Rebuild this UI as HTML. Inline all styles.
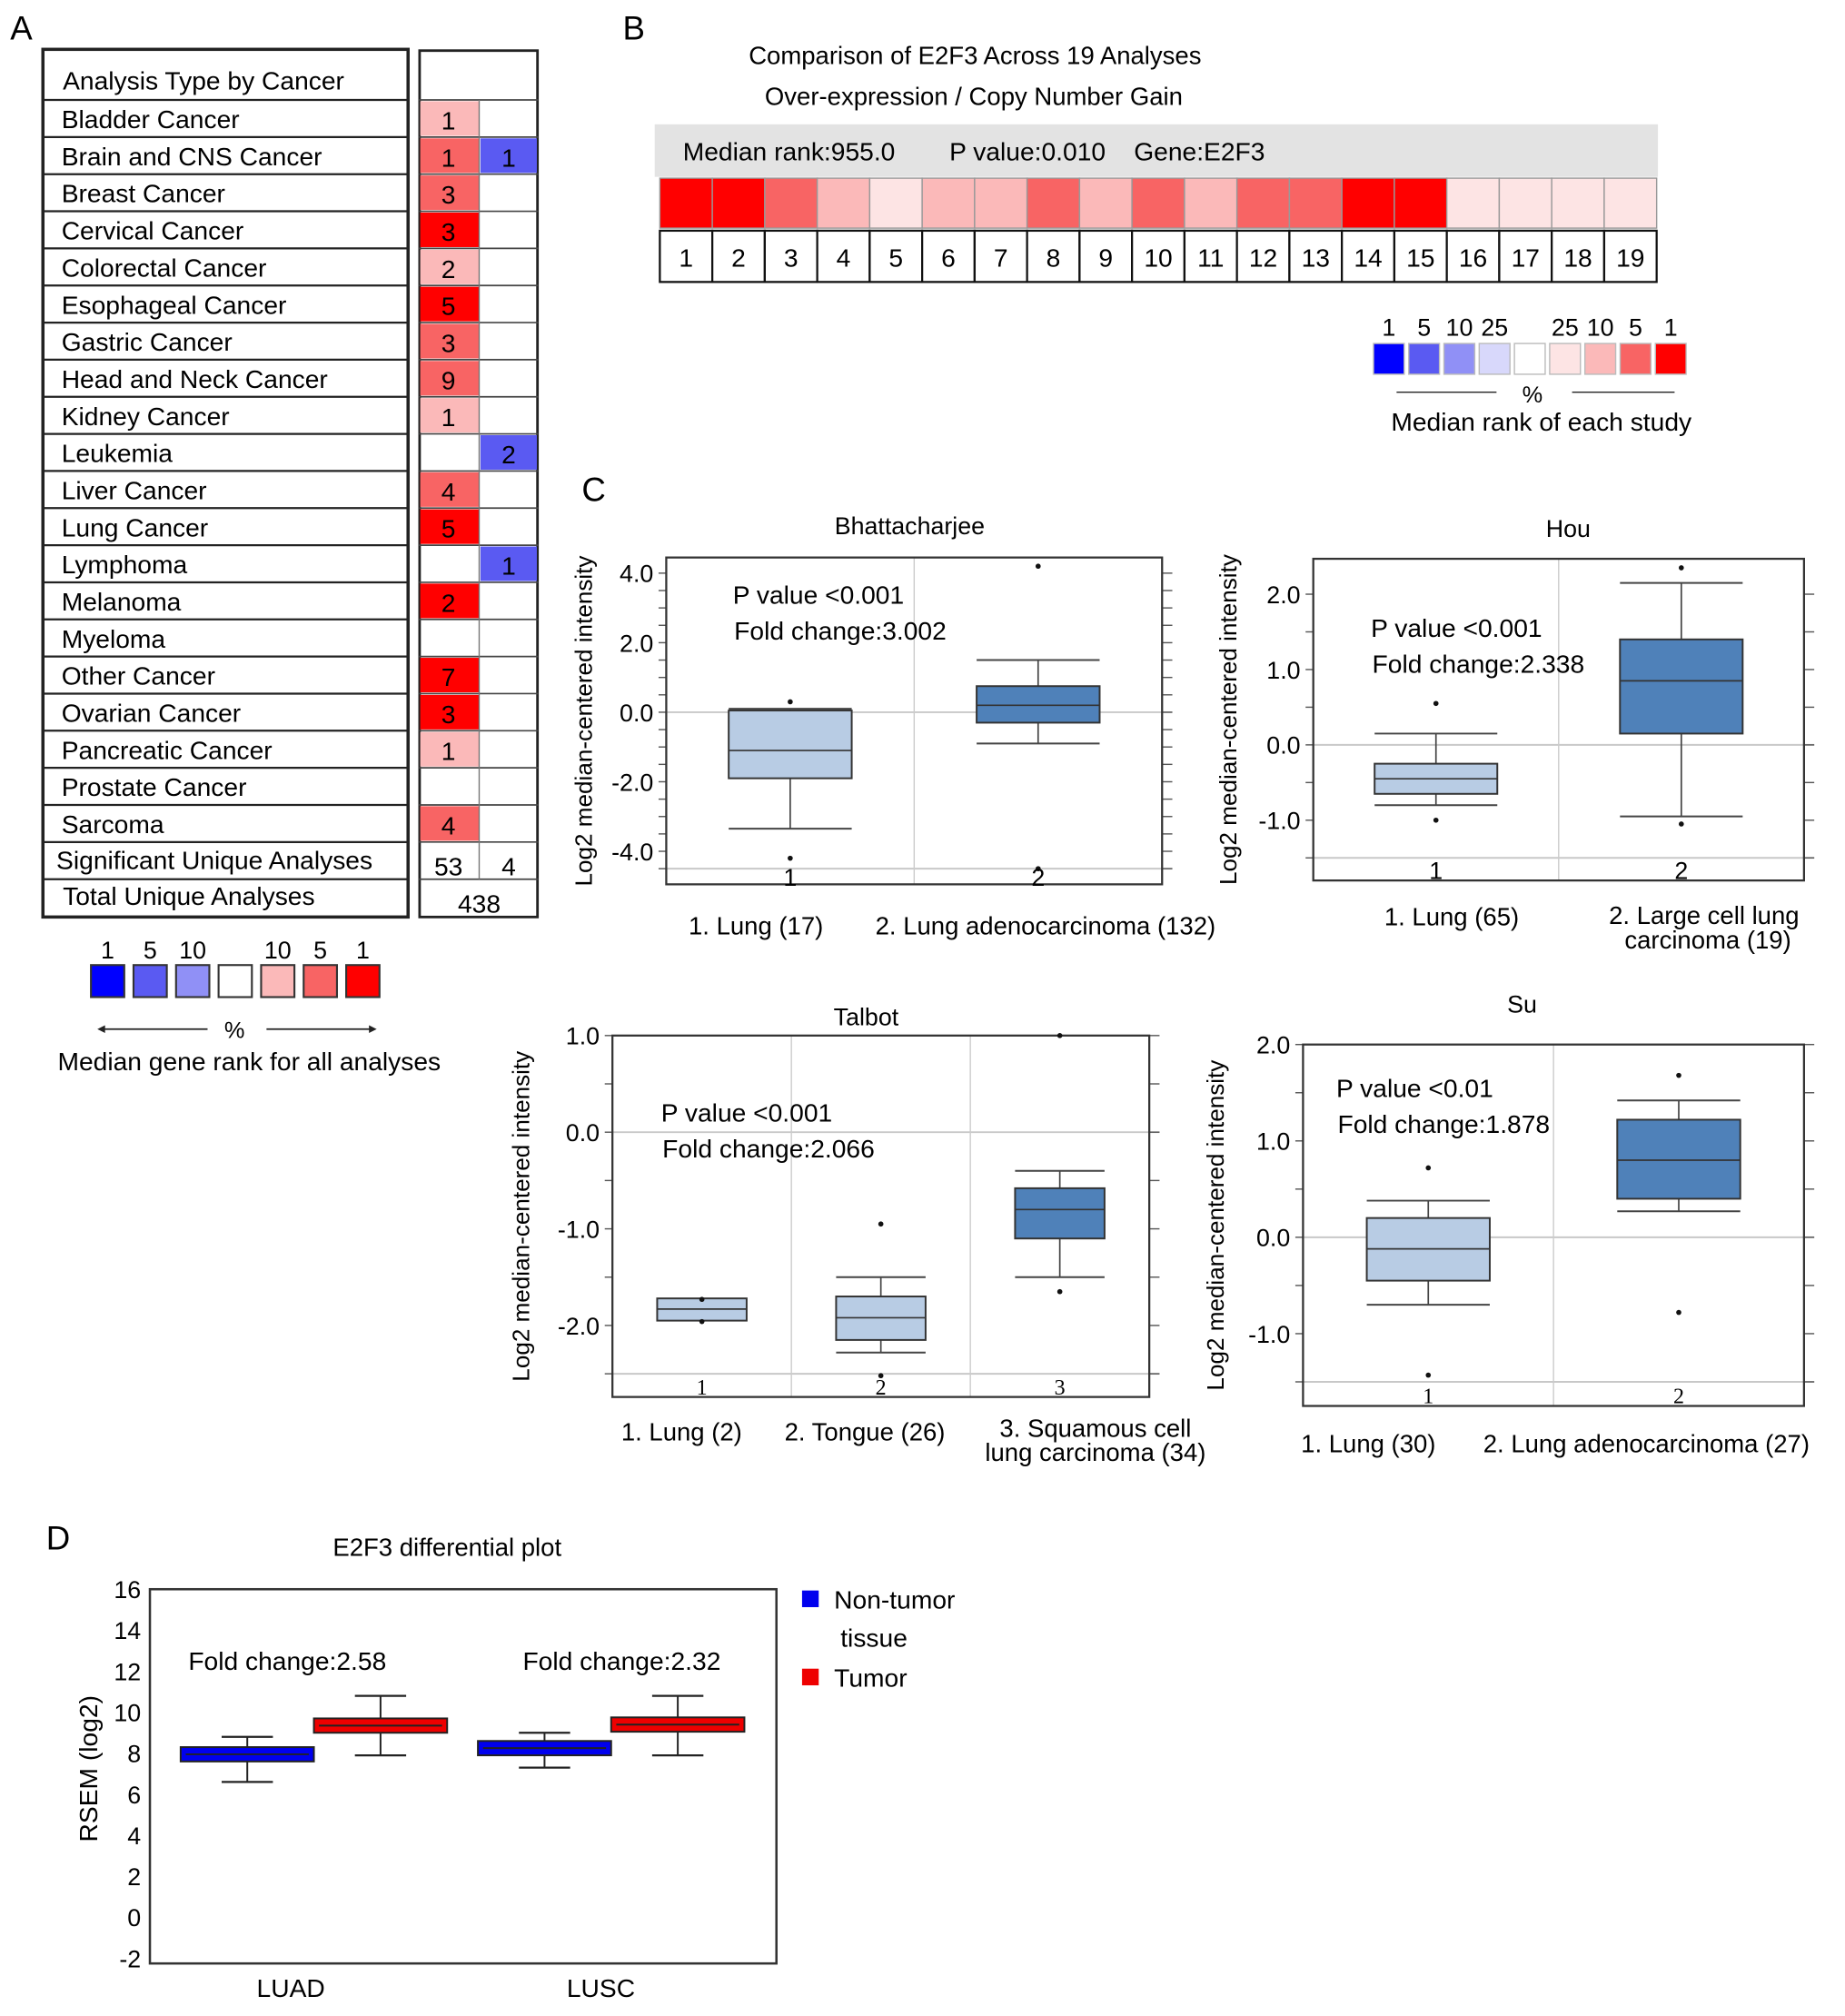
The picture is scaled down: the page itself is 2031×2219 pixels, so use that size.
<!DOCTYPE html>
<html><head><meta charset="utf-8"><style>
html,body{margin:0;padding:0;background:#fff;}
svg{display:block;font-family:"Liberation Sans",sans-serif;}
</style></head><body>
<svg id="fig" width="2031" height="2219" viewBox="0 0 1440 1573" preserveAspectRatio="none" xmlns="http://www.w3.org/2000/svg">
<rect x="0" y="0" width="1440" height="1573" fill="#fff"/>
<g id="pA"></g>
<g id="pB"></g>
<g id="pC"></g>
<g id="pD"></g>
</svg>
<script>
// ---------- Panel A data ----------
const cancerTypes=["Bladder Cancer","Brain and CNS Cancer","Breast Cancer","Cervical Cancer","Colorectal Cancer","Esophageal Cancer","Gastric Cancer","Head and Neck Cancer","Kidney Cancer","Leukemia","Liver Cancer","Lung Cancer","Lymphoma","Melanoma","Myeloma","Other Cancer","Ovarian Cancer","Pancreatic Cancer","Prostate Cancer","Sarcoma"];
const overCounts=[1,1,3,3,2,5,3,9,1,null,4,5,null,2,null,7,3,1,null,4];
const overLevels=[1,2,2,3,1,3,2,2,1,0,2,3,0,3,0,3,3,1,0,2];
const underCounts=[null,1,null,null,null,null,null,null,null,2,null,null,1,null,null,null,null,null,null,null];
const sigCounts=[53,4];
const totalAnalyses=438;
// ---------- Panel B data ----------
const studyNums=[1,2,3,4,5,6,7,8,9,10,11,12,13,14,15,16,17,18,19];
const studyLevels=[4,4,3,2,1,2,2,3,2,3,2,3,3,4,4,1,1,1,1];
// ---------- Panel C data ----------
const cPlots=[
 {name:"Bhattacharjee",x0:520,x1:907,y0:435,y1:690,vTop:4.45,vBot:-4.95,ticks:[4,2,0,-2,-4],tickLabels:["4.0","2.0","0.0","-2.0","-4.0"],minor:0.5,floor:-4.5,
  pv:"P value <0.001",fc:"Fold change:3.002",tx:572,ty:471,ylx:462,title:[710,417],
  xl:[[590,729,"1. Lung (17)"],[816,729,"2. Lung adenocarcinoma (132)"]],catY:691},
 {name:"Hou",x0:1025,x1:1408,y0:436,y1:687,vTop:2.47,vBot:-1.8,ticks:[2,1,0,-1],tickLabels:["2.0","1.0","0.0","-1.0"],minor:0.5,floor:-1.5,
  pv:"P value <0.001",fc:"Fold change:2.338",tx:1070,ty:497,ylx:965,title:[1224,419],
  xl:[[1133,722,"1. Lung (65)"],[1330,721,"2. Large cell lung"],[1333,740,"carcinoma (19)"]],catY:686},
 {name:"Talbot",x0:478,x1:897,y0:808,y1:1090,vTop:1.0,vBot:-2.74,ticks:[1,0,-1,-2],tickLabels:["1.0","0.0","-1.0","-2.0"],minor:0.5,floor:-2.5,
  pv:"P value <0.001",fc:"Fold change:2.066",tx:516,ty:875,ylx:413,title:[676,800],
  xl:[[532,1124,"1. Lung (2)"],[675,1124,"2. Tongue (26)"],[855,1121,"3. Squamous cell"],[855,1140,"lung carcinoma (34)"]],catY:1088},
 {name:"Su",x0:1017,x1:1408,y0:815,y1:1097,vTop:2.0,vBot:-1.75,ticks:[2,1,0,-1],tickLabels:["2.0","1.0","0.0","-1.0"],minor:0.5,floor:-1.5,
  pv:"P value <0.01",fc:"Fold change:1.878",tx:1043,ty:856,ylx:955,title:[1188,790],
  xl:[[1068,1133,"1. Lung (30)"],[1285,1133,"2. Lung adenocarcinoma (27)"]],catY:1095}
];
const cQ1=[[-1.9,-0.3],[-0.65,0.15],[-1.95,-2.15,-1.1],[-0.45,0.4]];
const cQ3=[[0.05,0.75],[-0.25,1.4],[-1.72,-1.7,-0.58],[0.2,1.22]];
const cMed=[[-1.1,0.2],[-0.45,0.85],[-1.83,-1.92,-0.8],[-0.12,0.8]];
const cWhiHi=[[0.1,1.5],[0.15,2.15],[null,-1.5,-0.4],[0.38,1.42]];
const cWhiLo=[[-3.35,-0.9],[-0.8,-0.95],[null,-2.28,-1.5],[-0.7,0.27]];
const cOutliers=[[[0.3,-4.2],[4.2,-4.5]],[[0.55,-1.0],[2.35,-1.05]],[[-1.73,-1.96],[-0.95,-2.52],[1.0,-1.65]],[[0.72,-1.43],[1.68,-0.78]]];
const cColors=[["#b8cce4","#4f81b9"],["#b8cce4","#4f81b9"],["#b8cce4","#b8cce4","#4f81b9"],["#b8cce4","#4f81b9"]];
// ---------- Panel D data ----------
const dCategories=["LUAD","LUSC"];
const dSeries=["Non-tumor tissue","Tumor"];
const dQ1=[[7.6,9.0],[7.9,9.05]];
const dQ3=[[8.3,9.7],[8.6,9.75]];
const dMed=[[7.95,9.35],[8.25,9.4]];
const dWhiHi=[[8.8,10.8],[9.0,10.8]];
const dWhiLo=[[6.6,7.9],[7.3,7.9]];
const dFold=["Fold change:2.58","Fold change:2.32"];
const dTicks=[16,14,12,10,8,6,4,2,0,-2];

const NS="http://www.w3.org/2000/svg";
function mk(p,tag,a,txt){const e=document.createElementNS(NS,tag);for(const k in a)e.setAttribute(k,a[k]);if(txt!==undefined)e.textContent=txt;p.appendChild(e);return e;}
const redCols=["#ffffff","#fbb9b9","#f86464","#ff0000"];
const bCols=["#ffffff","#fde4e4","#fbb9b9","#f86464","#ff0000"];

// ---------- Panel A ----------
const A=document.getElementById('pA');
let e;
e=mk(A,'text',{x:8,y:31,'font-size':26},'A');

const rowH=(657-78)/20;
e=mk(A,'rect',{x:33.5,y:38.5,width:285,height:677,fill:'none',stroke:'#222','stroke-width':2.5});

e=mk(A,'rect',{x:327.5,y:39.5,width:92,height:676,fill:'none',stroke:'#222','stroke-width':2});

e=mk(A,'text',{x:49,y:70,'font-size':20},'Analysis Type by Cancer');

for(let i=0;i<=20;i++){const y=78+i*rowH;mk(A,'line',{x1:33,x2:318,y1:y,y2:y,stroke:'#222','stroke-width':1.6});mk(A,'line',{x1:327,x2:420,y1:y,y2:y,stroke:'#444','stroke-width':1.2});}
mk(A,'line',{x1:33,x2:318,y1:686,y2:686,stroke:'#222','stroke-width':1.6});
mk(A,'line',{x1:327,x2:420,y1:686,y2:686,stroke:'#444','stroke-width':1.2});
cancerTypes.forEach((c,i)=>{
  const y=78+i*rowH;
  const t=mk(A,'text',{x:48,y:y+22,'font-size':20},c);
  
  if(overLevels[i]>0){const r=mk(A,'rect',{x:328,y:y+1,width:46,height:rowH-2,fill:redCols[overLevels[i]]});
    }
  if(overCounts[i]!==null){const n=mk(A,'text',{x:350,y:y+23,'font-size':20,'text-anchor':'middle'},overCounts[i]);
    }
  if(underCounts[i]!==null){const r=mk(A,'rect',{x:375,y:y+1,width:44,height:rowH-2,fill:'#5a5af2'});
    
    const n=mk(A,'text',{x:397,y:y+23,'font-size':20,'text-anchor':'middle'},underCounts[i]);
    }
});
mk(A,'line',{x1:374,x2:374,y1:78,y2:686,stroke:'#777','stroke-width':1});
e=mk(A,'text',{x:44,y:678,'font-size':20},'Significant Unique Analyses');

e=mk(A,'text',{x:49,y:706,'font-size':20},'Total Unique Analyses');

e=mk(A,'text',{x:350,y:683,'font-size':20,'text-anchor':'middle'},sigCounts[0]);

e=mk(A,'text',{x:397,y:683,'font-size':20,'text-anchor':'middle'},sigCounts[1]);

e=mk(A,'text',{x:374,y:712,'font-size':20,'text-anchor':'middle'},totalAnalyses);

const aLegCols=["#0000ff","#5a5af2","#9090f6","#ffffff","#fbb9b9","#f86464","#ff0000"];
const aLegLab=["1","5","10","","10","5","1"];
aLegCols.forEach((c,i)=>{const x=71+i*33.2;
  const r=mk(A,'rect',{x:x,y:753,width:26,height:25,fill:c,stroke:'#333','stroke-width':1.5});
  
  if(aLegLab[i]){const t=mk(A,'text',{x:x+13,y:748,'font-size':19,'text-anchor':'middle'},aLegLab[i]);
    }});
mk(A,'line',{x1:78,x2:162,y1:803,y2:803,stroke:'#222','stroke-width':1.2});
mk(A,'path',{d:'M76,803 l6,-3 v6z',fill:'#222'});
mk(A,'line',{x1:208,x2:292,y1:803,y2:803,stroke:'#222','stroke-width':1.2});
mk(A,'path',{d:'M294,803 l-6,-3 v6z',fill:'#222'});
e=mk(A,'text',{x:183,y:810,'font-size':18,'text-anchor':'middle'},'%');

e=mk(A,'text',{x:45,y:835,'font-size':20},'Median gene rank for all analyses');


// ---------- Panel B ----------
const B=document.getElementById('pB');
e=mk(B,'text',{x:486,y:31,'font-size':26},'B');

e=mk(B,'text',{x:761,y:50,'font-size':19.5,'text-anchor':'middle'},'Comparison of E2F3 Across 19 Analyses');

e=mk(B,'text',{x:760,y:82,'font-size':19.5,'text-anchor':'middle'},'Over-expression / Copy Number Gain');

e=mk(B,'rect',{x:511,y:97,width:783,height:41,fill:'#e3e3e3'});

e=mk(B,'text',{x:533,y:125,'font-size':20},'Median rank:955.0');

e=mk(B,'text',{x:741,y:125,'font-size':20},'P value:0.010');

e=mk(B,'text',{x:885,y:125,'font-size':20},'Gene:E2F3');

const cw=(1293-515)/19;
studyNums.forEach((n,i)=>{const x=515+i*cw;
  const r=mk(B,'rect',{x:x,y:139,width:cw,height:39,fill:bCols[studyLevels[i]],stroke:'#999','stroke-width':1});
  
  const b=mk(B,'rect',{x:x,y:180,width:cw,height:40,fill:'#fff',stroke:'#111','stroke-width':1.6});
  
  const t=mk(B,'text',{x:x+cw/2,y:208,'font-size':20,'text-anchor':'middle'},n);
  });
const bLegCols=["#0000ff","#5a5af2","#9090f6","#d8d8fb","#ffffff","#fde4e4","#fbb9b9","#f86464","#ff0000"];
const bLegLab=["1","5","10","25","","25","10","5","1"];
bLegCols.forEach((c,i)=>{const x=1072+i*27.5;
  const r=mk(B,'rect',{x:x,y:268,width:24,height:24,fill:c,stroke:'#bbb','stroke-width':1});
  
  if(bLegLab[i]){const t=mk(B,'text',{x:x+12,y:262,'font-size':19,'text-anchor':'middle'},bLegLab[i]);
    }});
mk(B,'line',{x1:1090,x2:1168,y1:306,y2:306,stroke:'#222','stroke-width':1});
mk(B,'line',{x1:1227,x2:1307,y1:306,y2:306,stroke:'#222','stroke-width':1});
e=mk(B,'text',{x:1196,y:314,'font-size':18,'text-anchor':'middle'},'%');

e=mk(B,'text',{x:1203,y:336,'font-size':20,'text-anchor':'middle'},'Median rank of each study');


// ---------- Panel C ----------
const C=document.getElementById('pC');
e=mk(C,'text',{x:454,y:391,'font-size':26},'C');

cPlots.forEach((p,pi)=>{
  const g=mk(C,'g',{});
  
  const ys=v=>p.y0+(p.vTop-v)/(p.vTop-p.vBot)*(p.y1-p.y0);
  const n=cQ1[pi].length, w=(p.x1-p.x0)/n;
  const t=mk(g,'text',{x:p.title[0],y:p.title[1],'font-size':19,'text-anchor':'middle'},p.name);
  
  mk(g,'line',{x1:p.x0,x2:p.x1+8,y1:ys(0),y2:ys(0),stroke:'#c8c8c8','stroke-width':1.4});
  mk(g,'line',{x1:p.x0,x2:p.x1+8,y1:ys(p.floor),y2:ys(p.floor),stroke:'#c8c8c8','stroke-width':1.4});
  for(let k=1;k<n;k++)mk(g,'line',{x1:p.x0+k*w,x2:p.x0+k*w,y1:p.y0,y2:p.y1,stroke:'#ccc','stroke-width':1});
  for(let v=Math.ceil(p.vBot/p.minor)*p.minor;v<=p.vTop+1e-6;v+=p.minor){
    mk(g,'line',{x1:p.x1,x2:p.x1+8,y1:ys(v),y2:ys(v),stroke:'#555','stroke-width':1});
    mk(g,'line',{x1:p.x0-6,x2:p.x0,y1:ys(v),y2:ys(v),stroke:'#555','stroke-width':1});}
  p.ticks.forEach((v,k)=>{const tl=mk(g,'text',{x:p.x0-10,y:ys(v)+7,'font-size':19,'text-anchor':'end'},p.tickLabels[k]);
    });
  const fr=mk(g,'rect',{x:p.x0,y:p.y0,width:p.x1-p.x0,height:p.y1-p.y0,fill:'none',stroke:'#333','stroke-width':1.6});
  
  for(let k=0;k<n;k++){
    const cx=p.x0+(k+0.5)*w, bw=Math.min(96,w*0.5);
    if(cWhiHi[pi][k]!==null){
      mk(g,'line',{x1:cx,x2:cx,y1:ys(cWhiHi[pi][k]),y2:ys(cWhiLo[pi][k]),stroke:'#444','stroke-width':1.2});
      mk(g,'line',{x1:cx-bw/2,x2:cx+bw/2,y1:ys(cWhiHi[pi][k]),y2:ys(cWhiHi[pi][k]),stroke:'#444','stroke-width':1.4});
      mk(g,'line',{x1:cx-bw/2,x2:cx+bw/2,y1:ys(cWhiLo[pi][k]),y2:ys(cWhiLo[pi][k]),stroke:'#444','stroke-width':1.4});}
    const bx=mk(g,'rect',{x:cx-bw/2,y:ys(cQ3[pi][k]),width:bw,height:ys(cQ1[pi][k])-ys(cQ3[pi][k]),fill:cColors[pi][k],stroke:'#333','stroke-width':1.4});
    
    mk(g,'line',{x1:cx-bw/2,x2:cx+bw/2,y1:ys(cMed[pi][k]),y2:ys(cMed[pi][k]),stroke:'#333','stroke-width':1.2});
    cOutliers[pi][k].forEach(v=>{const o=mk(g,'circle',{cx:cx,cy:ys(v),r:2,fill:'#111'});
      });
    const cl=mk(g,'text',{x:cx,y:p.catY,'font-size':pi>=2?17:19,'text-anchor':'middle','font-family':pi>=2?'Liberation Serif, serif':'Liberation Sans, sans-serif'},k+1);
    }
  const a1=mk(g,'text',{x:p.tx,y:p.ty,'font-size':20},p.pv);
  
  const a2=mk(g,'text',{x:p.tx+1,y:p.ty+28,'font-size':20},p.fc);
  
  const yl=mk(g,'text',{x:0,y:0,'font-size':18.5,'text-anchor':'middle',transform:'translate('+p.ylx+','+((p.y0+p.y1)/2)+') rotate(-90)'},'Log2 median-centered intensity');
  
  p.xl.forEach(l=>{const xt=mk(g,'text',{x:l[0],y:l[1],'font-size':19.5,'text-anchor':'middle'},l[2]);
    });
});

// ---------- Panel D ----------
const D=document.getElementById('pD');
e=mk(D,'text',{x:36,y:1209,'font-size':26},'D');

e=mk(D,'text',{x:349,y:1214,'font-size':19.5,'text-anchor':'middle'},'E2F3 differential plot');

const dy=v=>1240+(16-v)*16.0;
const dX0=117,dX1=606;
e=mk(D,'rect',{x:dX0,y:1240,width:dX1-dX0,height:292,fill:'none',stroke:'#333','stroke-width':1.8});

dTicks.forEach(v=>{const t=mk(D,'text',{x:110,y:dy(v)+7,'font-size':19,'text-anchor':'end'},v);
  });
e=mk(D,'text',{x:0,y:0,'font-size':20,'text-anchor':'middle',transform:'translate(76,1380) rotate(-90)'},'RSEM (log2)');

const dCols=["#0000ee","#ee0000"];
const groupStarts=[141,373];
const foldX=[147,408];
const catLabX=[227,469];
const bw=104;
dCategories.forEach((c,ci)=>{
  const gx=groupStarts[ci];
  dSeries.forEach((s,si)=>{
    const x=gx+si*bw, cx=x+bw/2;
    mk(D,'line',{x1:cx,x2:cx,y1:dy(dWhiHi[ci][si]),y2:dy(dWhiLo[ci][si]),stroke:'#222','stroke-width':1.4});
    mk(D,'line',{x1:cx-20,x2:cx+20,y1:dy(dWhiHi[ci][si]),y2:dy(dWhiHi[ci][si]),stroke:'#222','stroke-width':1.6});
    mk(D,'line',{x1:cx-20,x2:cx+20,y1:dy(dWhiLo[ci][si]),y2:dy(dWhiLo[ci][si]),stroke:'#222','stroke-width':1.6});
    const r=mk(D,'rect',{x:x,y:dy(dQ3[ci][si]),width:bw,height:dy(dQ1[ci][si])-dy(dQ3[ci][si]),fill:dCols[si],stroke:'#222','stroke-width':1.4});
    
    mk(D,'line',{x1:x+4,x2:x+bw-4,y1:dy(dMed[ci][si]),y2:dy(dMed[ci][si]),stroke:'#222','stroke-width':1.4});
  });
  const ft=mk(D,'text',{x:foldX[ci],y:1303,'font-size':20},dFold[ci]);
  
  const xl=mk(D,'text',{x:catLabX[ci],y:1558,'font-size':20,'text-anchor':'middle'},c);
  
});
e=mk(D,'rect',{x:626,y:1241,width:13,height:13,fill:'#0000ee'});

e=mk(D,'text',{x:651,y:1255,'font-size':20},'Non-tumor');

e=mk(D,'text',{x:656,y:1285,'font-size':20},'tissue');

e=mk(D,'rect',{x:626,y:1302,width:13,height:13,fill:'#ee0000'});

e=mk(D,'text',{x:651,y:1316,'font-size':20},'Tumor');

</script>
</body></html>
